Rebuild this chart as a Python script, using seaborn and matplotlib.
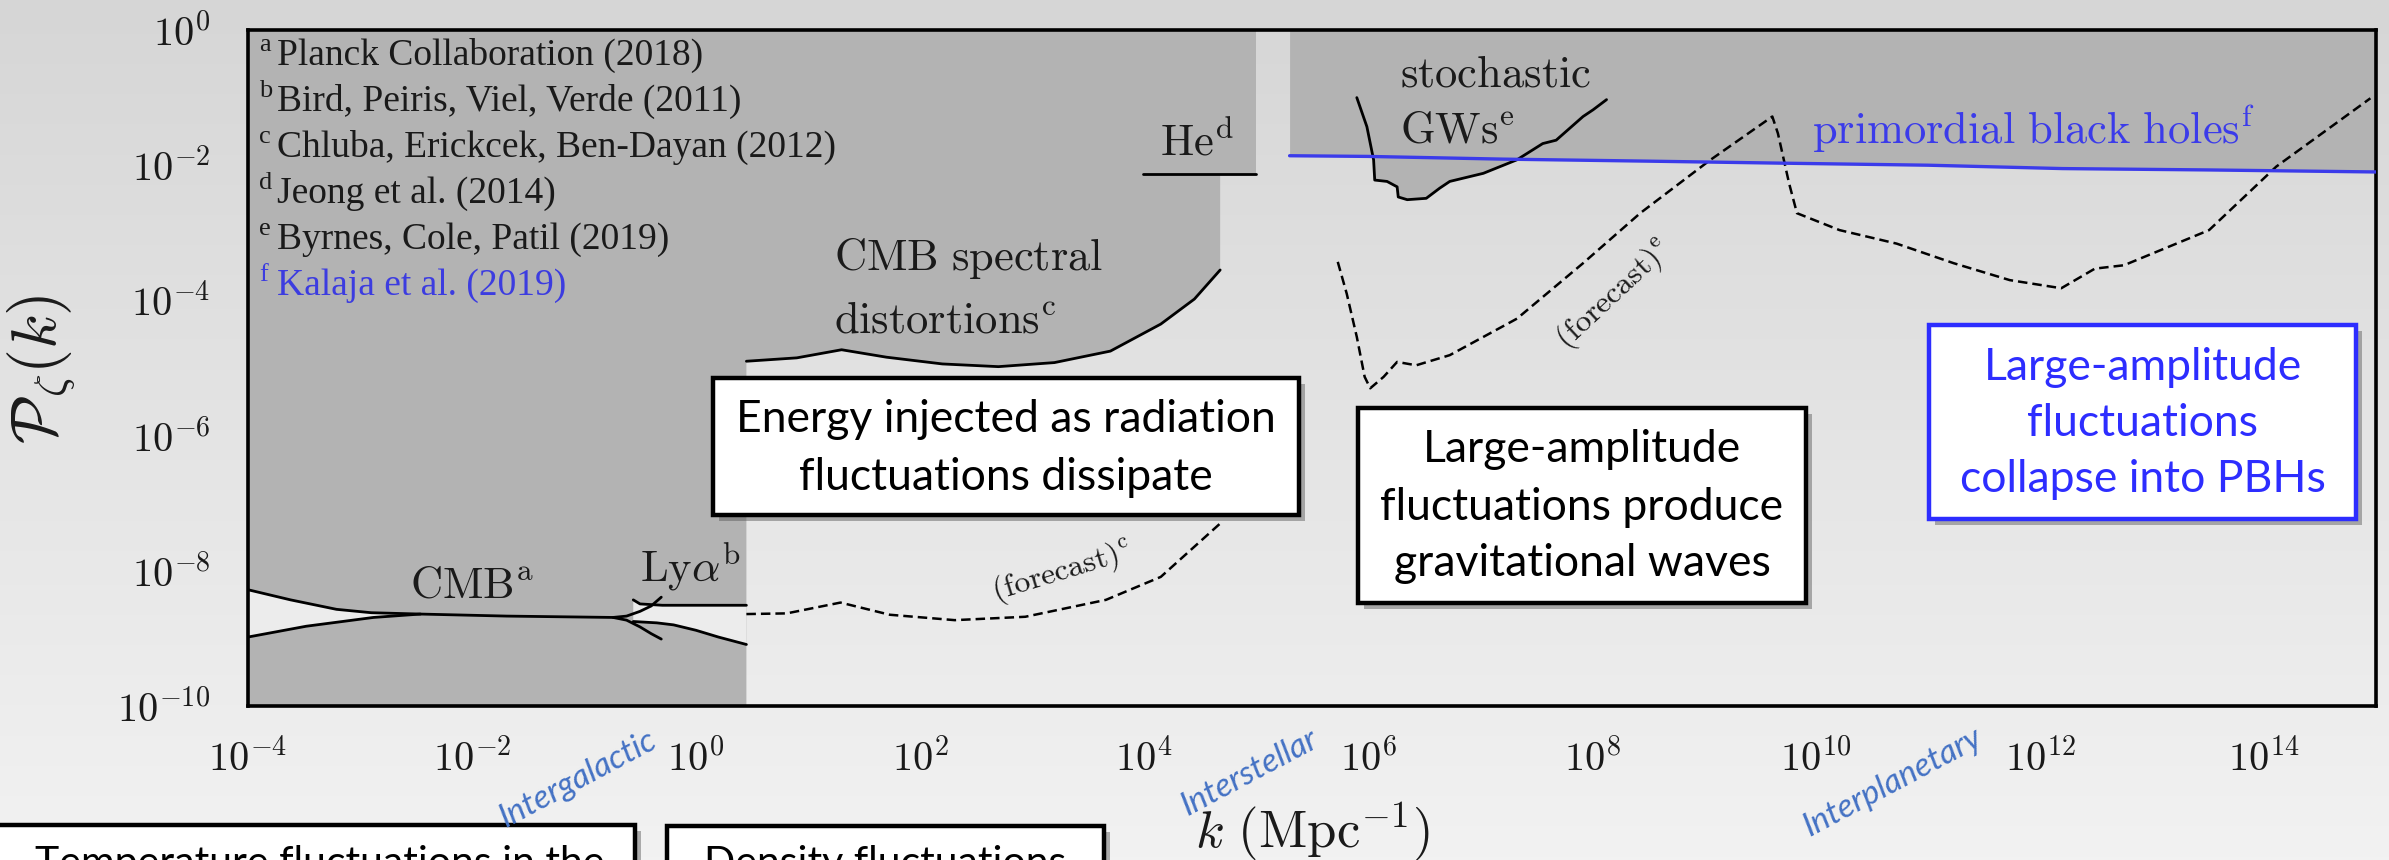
import numpy as np
import matplotlib
matplotlib.use("Agg")
import matplotlib.pyplot as plt
import matplotlib.patheffects as pe
from matplotlib.colors import LinearSegmentedColormap
from matplotlib.patches import Rectangle
from matplotlib.ticker import FixedLocator, NullLocator
import seaborn as sns

sns.set_theme(style="white")
plt.rcParams["font.family"] = ["DejaVu Sans"]
plt.rcParams["mathtext.fontset"] = "cm"

W, H, DPI = 2389, 860, 100

# ---------------- constraint curves (log10 k [Mpc^-1], log10 P_zeta) ----------------
cmb_upper_lgk = [-4.0, -3.62, -3.21, -2.9, -2.46, -1.69, -0.74, -0.62, -0.5, -0.4, -0.31]
cmb_upper_lgP = [-8.28, -8.43, -8.57, -8.62, -8.64, -8.67, -8.69, -8.67, -8.60, -8.52, -8.39]
cmb_lower_lgk = [-4.0, -3.48, -2.88, -2.46]
cmb_lower_lgP = [-8.98, -8.82, -8.69, -8.64]
cmb_branch_lgk = [-0.74, -0.62, -0.5, -0.4, -0.31]
cmb_branch_lgP = [-8.69, -8.73, -8.83, -8.93, -9.01]

lya_upper_lgk = [-0.56, -0.5, -0.3, 0.0, 0.45]
lya_upper_lgP = [-8.43, -8.49, -8.51, -8.51, -8.51]
lya_lower_lgk = [-0.56, -0.35, -0.2, 0.0, 0.2, 0.45]
lya_lower_lgP = [-8.75, -8.77, -8.80, -8.88, -8.98, -9.09]

sd_lgk = [0.45, 0.9, 1.3, 1.7, 2.2, 2.7, 3.2, 3.7, 4.15, 4.45, 4.68]
sd_lgP = [-4.90, -4.85, -4.73, -4.84, -4.94, -4.98, -4.92, -4.75, -4.35, -3.98, -3.55]
sd_fc_lgk = [0.45, 0.81, 1.29, 1.73, 2.31, 2.94, 3.66, 4.15, 4.68]
sd_fc_lgP = [-8.64, -8.63, -8.47, -8.65, -8.73, -8.68, -8.43, -8.09, -7.30]

he_lgk = [3.99, 5.0]
he_lgP = [-2.13, -2.13]

pbh_lgk = [5.3, 6.0, 7.2, 8.5, 9.7, 11.0, 12.2, 13.5, 15.0]
pbh_lgP = [-1.86, -1.87, -1.91, -1.94, -1.97, -2.0, -2.05, -2.07, -2.10]

gw_lgk = [5.90, 5.99, 6.05, 6.06, 6.17, 6.26, 6.27, 6.35, 6.52, 6.64, 6.73,
          7.03, 7.33, 7.56, 7.68, 7.92, 8.01, 8.13]
gw_lgP = [-1.0, -1.43, -1.92, -2.22, -2.24, -2.32, -2.47, -2.51, -2.49, -2.34, -2.24,
          -2.12, -1.92, -1.68, -1.63, -1.28, -1.18, -1.03]

gw_fc_lgk = [5.73, 5.81, 5.90, 5.97, 6.02, 6.14, 6.26, 6.43, 6.73, 7.03, 7.33, 7.92,
             8.43, 9.05, 9.61, 9.66, 9.76, 9.83, 10.21, 10.72, 11.23, 11.73, 12.19,
             12.49, 12.75, 13.51, 14.11, 14.95]
gw_fc_lgP = [-3.43, -3.90, -4.54, -5.13, -5.30, -5.13, -4.91, -4.96, -4.81, -4.54, -4.27, -3.45,
             -2.71, -1.93, -1.28, -1.53, -2.27, -2.71, -2.96, -3.16, -3.45, -3.70, -3.82,
             -3.53, -3.48, -2.96, -2.02, -1.01]

# edges of the excluded bands
lss_edge_lgk = 0.45      # CMB / Lyman-alpha block ends
sd_edge_lgk = 4.68       # spectral-distortion block ends
he_edge_lgk = 5.0        # helium block ends

x_tick_exp = list(range(-4, 15, 2))
y_tick_exp = list(range(-10, 1, 2))

references = [
    ("a", "Planck Collaboration (2018)", "#1a1a1a"),
    ("b", "Bird, Peiris, Viel, Verde (2011)", "#1a1a1a"),
    ("c", "Chluba, Erickcek, Ben-Dayan (2012)", "#1a1a1a"),
    ("d", "Jeong et al. (2014)", "#1a1a1a"),
    ("e", "Byrnes, Cole, Patil (2019)", "#1a1a1a"),
    ("f", "Kalaja et al. (2019)", "#3c3ce0"),
]

DARK = "#b3b3b3"
LIGHT = "#ececec"
BLUE = "#3b3bea"
SCALE_BLUE = "#4472c4"


def p10(v):
    return 10.0 ** np.asarray(v, dtype=float)


fig = plt.figure(figsize=(W / DPI, H / DPI), dpi=DPI)

# soft vertical grey gradient behind everything
bg = fig.add_axes([0, 0, 1, 1], zorder=0)
bg.imshow(np.linspace(0, 1, 256)[:, None], aspect="auto", extent=[0, 1, 0, 1],
          cmap=LinearSegmentedColormap.from_list("bg", ["#d6d6d6", "#f2f2f2"]))
bg.axis("off")

ax = fig.add_axes([248 / W, 1 - 706 / H, (2376 - 248) / W, (706 - 30) / H], zorder=1)
ax.set_facecolor("none")
ax.set_xscale("log")
ax.set_yscale("log")
ax.set_xlim(1e-4, 1e15)
ax.set_ylim(1e-10, 1)

# ---- excluded regions ----
left_poly_k = [-4.0, lss_edge_lgk, lss_edge_lgk] + sd_lgk + [sd_edge_lgk, he_edge_lgk, he_edge_lgk, -4.0]
left_poly_P = [-10.0, -10.0, sd_lgP[0]] + sd_lgP + [he_lgP[0], he_lgP[0], 0.0, 0.0]
ax.fill(p10(left_poly_k), p10(left_poly_P), color=DARK, lw=0, zorder=1)

ax.fill_between(p10(pbh_lgk), p10(pbh_lgP), 1.0, color=DARK, lw=0, zorder=1)
ax.fill(p10(gw_lgk), p10(gw_lgP), color=DARK, lw=0, zorder=1)

# allowed wedges inside the CMB and Lyman-alpha bands
wedge_k = cmb_upper_lgk[:5] + cmb_lower_lgk[::-1]
wedge_P = cmb_upper_lgP[:5] + cmb_lower_lgP[::-1]
ax.fill(p10(wedge_k), p10(wedge_P), color=LIGHT, lw=0, zorder=2)
ax.fill(p10(lya_upper_lgk + lya_lower_lgk[::-1]), p10(lya_upper_lgP + lya_lower_lgP[::-1]),
        color=LIGHT, lw=0, zorder=2)

# ---- curves ----
solid = dict(color="black", lw=2.0, sort=False, estimator=None, zorder=4, legend=False)
for kk, pp in [(cmb_upper_lgk, cmb_upper_lgP), (cmb_lower_lgk, cmb_lower_lgP),
               (cmb_branch_lgk, cmb_branch_lgP), (lya_upper_lgk, lya_upper_lgP),
               (lya_lower_lgk, lya_lower_lgP), (sd_lgk, sd_lgP), (he_lgk, he_lgP),
               (gw_lgk, gw_lgP)]:
    sns.lineplot(x=p10(kk), y=p10(pp), ax=ax, **solid)

dashed = dict(color="black", lw=1.8, sort=False, estimator=None, zorder=4, legend=False,
              linestyle=(0, (3.8, 2.0)))
sns.lineplot(x=p10(sd_fc_lgk), y=p10(sd_fc_lgP), ax=ax, **dashed)
sns.lineplot(x=p10(gw_fc_lgk), y=p10(gw_fc_lgP), ax=ax, **dashed)

sns.lineplot(x=p10(pbh_lgk), y=p10(pbh_lgP), ax=ax, color=BLUE, lw=2.4, sort=False,
             estimator=None, zorder=5, legend=False)

# ---- in-plot labels ----
lab = dict(fontsize=32, color="#1a1a1a", va="baseline", zorder=6)
ax.text(p10(-2.0), p10(-8.39), r"$\mathrm{CMB}^{\mathrm{a}}$", ha="center", **lab)
ax.text(p10(-0.05), p10(-8.16), r"$\mathrm{Ly}\alpha^{\mathrm{b}}$", ha="center", **lab)
ax.text(p10(4.47), p10(-1.86), r"$\mathrm{He}^{\mathrm{d}}$", ha="center", **lab)
ax.text(p10(1.23), p10(-3.55), r"$\mathrm{CMB\ spectral}$", ha="left", **lab)
ax.text(p10(1.23), p10(-4.48), r"$\mathrm{distortions}^{\mathrm{c}}$", ha="left", **lab)
ax.text(p10(6.29), p10(-0.84), r"$\mathrm{stochastic}$", ha="left", **lab)
ax.text(p10(6.29), p10(-1.67), r"$\mathrm{GWs}^{\mathrm{e}}$", ha="left", **lab)
ax.text(p10(9.96), p10(-1.69), r"$\mathrm{primordial\ black\ holes}^{\mathrm{f}}$", ha="left",
        fontsize=32, color=BLUE, va="baseline", zorder=6)
ax.text(p10(3.27), p10(-8.02), r"$\mathrm{(forecast)}^{\mathrm{c}}$", ha="center", va="center",
        rotation=17, rotation_mode="anchor", fontsize=23, color="#1a1a1a", zorder=6)
ax.text(p10(8.2), p10(-3.92), r"$\mathrm{(forecast)}^{\mathrm{e}}$", ha="center", va="center",
        rotation=43, rotation_mode="anchor", fontsize=23, color="#1a1a1a", zorder=6)

# ---- axes styling ----
ax.xaxis.set_major_locator(FixedLocator(p10(x_tick_exp)))
ax.yaxis.set_major_locator(FixedLocator(p10(y_tick_exp)))
ax.xaxis.set_minor_locator(NullLocator())
ax.yaxis.set_minor_locator(NullLocator())
ax.set_xticklabels([rf"$10^{{{e}}}$" for e in x_tick_exp])
ax.set_yticklabels([rf"$10^{{{e}}}$" for e in y_tick_exp])
ax.tick_params(axis="both", which="major", direction="out", length=13, width=2.2,
               color="black", labelsize=29, labelcolor="#1a1a1a")
ax.tick_params(axis="x", pad=11)
ax.tick_params(axis="y", pad=14)
for s in ax.spines.values():
    s.set_visible(True)
    s.set_color("black")
    s.set_linewidth(2.6)

ax.set_xlabel(r"$k\ (\mathrm{Mpc}^{-1})$", fontsize=38, color="#1a1a1a", va="center")
ax.xaxis.set_label_coords(0.5, (706 - 832) / 676)
ax.set_ylabel(r"$\mathcal{P}_\zeta(k)$", fontsize=46, color="#1a1a1a", va="center")
ax.yaxis.set_label_coords((42 - 248) / 2128, (706 - 369) / 676)

# ---- overlay in pixel coordinates: reference list, scale names, callouts ----
ov = fig.add_axes([0, 0, 1, 1], zorder=3)
ov.set_xlim(0, W)
ov.set_ylim(H, 0)
ov.axis("off")
ov.patch.set_alpha(0)

for i, (tag, txt, col) in enumerate(references):
    yb = 65 + 46 * i
    ov.text(259, yb - 14, tag, fontsize=19, family="Liberation Serif", color=col,
            va="baseline", ha="left")
    ov.text(277, yb, txt, fontsize=27, family="Liberation Serif", color=col,
            va="baseline", ha="left")

scale_names = [("Intergalactic", 578, 779), ("Interstellar", 1250, 773), ("Interplanetary", 1893, 782)]
for name, xc, yc in scale_names:
    ov.text(xc, yc, name, fontsize=24, family="Lato", style="italic", color=SCALE_BLUE,
            rotation=28, ha="center", va="center", rotation_mode="anchor")

shadow = [pe.SimplePatchShadow(offset=(4, -4), shadow_rgbFace="#555555", alpha=0.45), pe.Normal()]
callouts = [
    (713, 378, 1299, 515, ["Energy injected as radiation", "fluctuations dissipate"], "black",
     [420, 478], 32),
    (1358, 408, 1806, 603, ["Large-amplitude", "fluctuations produce", "gravitational waves"],
     "black", [450, 507, 563], 32),
    (1929, 325, 2356, 519, ["Large-amplitude", "fluctuations", "collapse into PBHs"], "#2d2dff",
     [367, 424, 480], 32),
    (-20, 825, 635, 900, ["Temperature fluctuations in the"], "black", [864], 29.5),
    (667, 826, 1104, 900, ["Density fluctuations"], "black", [864], 29.5),
]
for x0, y0, x1, y1, lines, col, ys, fs in callouts:
    ov.add_patch(Rectangle((x0, y0), x1 - x0, y1 - y0, facecolor="white", edgecolor=col,
                           lw=3.2, path_effects=shadow, clip_on=False))
    for line, yy in zip(lines, ys):
        ov.text((x0 + x1) / 2 + (12 if x0 < 0 else 0), yy, line, fontsize=fs, family="Lato",
                color=col, ha="center", va="center")

fig.savefig("out.png", dpi=DPI)
